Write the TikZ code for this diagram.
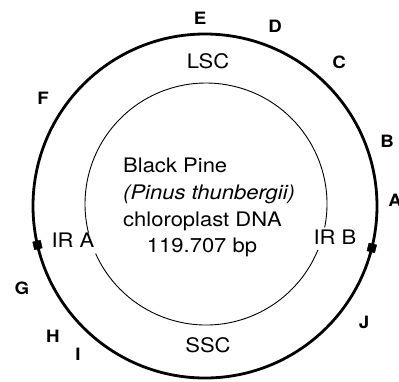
\documentclass[tikz,border=0pt]{standalone}
\usepackage{fontspec}
\setmainfont{TeX Gyre Heros}[FakeStretch=1.1]
\begin{document}
\begin{tikzpicture}[x=1pt,y=-1pt,
  region/.style={inner sep=0pt, anchor=base, font=\fontsize{20}{24}\selectfont},
  infoline/.style={inner sep=0pt, anchor=base west, font=\fontsize{20}{24}\selectfont},
  site/.style={inner sep=0pt, anchor=base, font=\bfseries\fontsize{17}{20}\selectfont},
  junction/.style={fill=black, draw=black, inner sep=0pt, minimum size=8pt},
  genome/.style={line width=2.8pt},
  ring/.style={line width=0.9pt}]
\useasboundingbox (0,0) rectangle (399,381);

% centres of the two rings
\coordinate (oc) at (205,206);
\coordinate (ic) at (206,204);

% outer genome circle
\draw[genome] (oc) circle (172pt);

% inner ring, broken at the two inverted-repeat labels
\draw[ring] ([shift={(-11.2:121pt)}]ic) arc[start angle=-11.2, end angle=193.7, radius=121pt];
\draw[ring] ([shift={(204.2:121pt)}]ic) arc[start angle=204.2, end angle=337.7, radius=121pt];

% junction marks on the outer circle
\node[junction, rotate=13.1] (ja) at ([shift={(193.1:172pt)}]oc) {};
\node[junction, rotate=-14.1] (jb) at ([shift={(-14.1:172pt)}]oc) {};

% region names
\node[region] (lsc) at (208,68) {LSC};
\node[region] (ssc) at (208,352) {SSC};
\node[region] (ira) at (73,247) {IR A};
\node[region] (irb) at (335,244) {IR B};

% central description
\node[infoline] (t1) at (123,172) {Black Pine};
\node[infoline] (t2) at (123,199) {\itshape (Pinus thunbergii)};
\node[infoline] (t3) at (123,226) {chloroplast DNA};
\node[region] (t4) at (202,252) {119.707 bp};

% site letters around the circle (A runs past the right edge)
\node[site] (sE) at (200,24) {E};
\node[site] (sD) at (275,32) {D};
\node[site] (sC) at (339,68) {C};
\node[site] (sB) at (387,147) {B};
\node[site] (sA) at (395,206) {A};
\node[site] (sF) at (43,104) {F};
\node[site] (sG) at (22,294) {G};
\node[site] (sH) at (53,342) {H};
\node[site] (sI) at (78,360) {I};
\node[site] (sJ) at (364,328) {J};
\end{tikzpicture}
\end{document}
